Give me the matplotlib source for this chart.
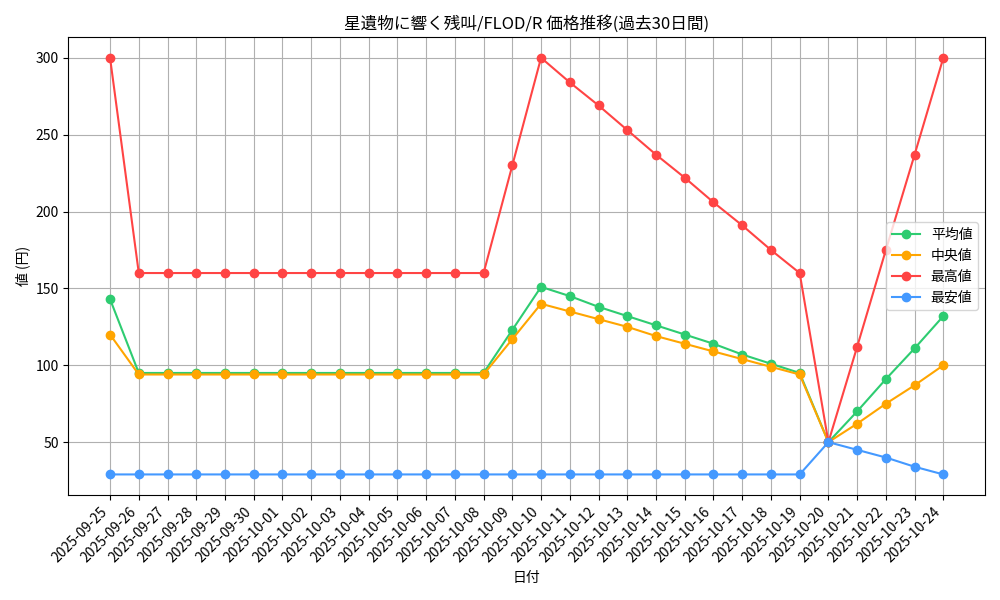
import matplotlib
matplotlib.use('Agg')
import matplotlib.pyplot as plt
import pandas as pd

plt.rcParams['font.family'] = ['Noto Sans CJK JP', 'DejaVu Sans']

dates = [d.strftime('%Y-%m-%d') for d in pd.date_range('2025-09-25', '2025-10-24')]
avg_vals = [143] + [95] * 13 + [123, 151, 145, 138, 132, 126, 120, 114, 107, 101, 95, 50, 70, 91, 111, 132]
med_vals = [120] + [94] * 13 + [117, 140, 135, 130, 125, 119, 114, 109, 104, 99, 94, 50, 62, 75, 87, 100]
max_vals = [300] + [160] * 13 + [230, 300, 284, 269, 253, 237, 222, 206, 191, 175, 160, 50, 112, 175, 237, 300]
min_vals = [29] * 25 + [50, 45, 40, 34, 29]

fig, ax = plt.subplots(figsize=(10, 6), dpi=100)
x = range(len(dates))
ax.plot(x, avg_vals, marker='o', color='#2ecc71', label='平均値')
ax.plot(x, med_vals, marker='o', color='#ffa500', label='中央値')
ax.plot(x, max_vals, marker='o', color='#ff4444', label='最高値')
ax.plot(x, min_vals, marker='o', color='#4499ff', label='最安値')

ax.set_xticks(list(x))
ax.set_xticklabels(dates, rotation=45, ha='right')
ax.set_title('星遺物に響く残叫/FLOD/R 価格推移(過去30日間)')
ax.set_xlabel('日付')
ax.set_ylabel('値 (円)')
ax.grid(True, color='#b0b0b0')
ax.legend(loc='center right')

plt.tight_layout()
plt.savefig('out.png')
